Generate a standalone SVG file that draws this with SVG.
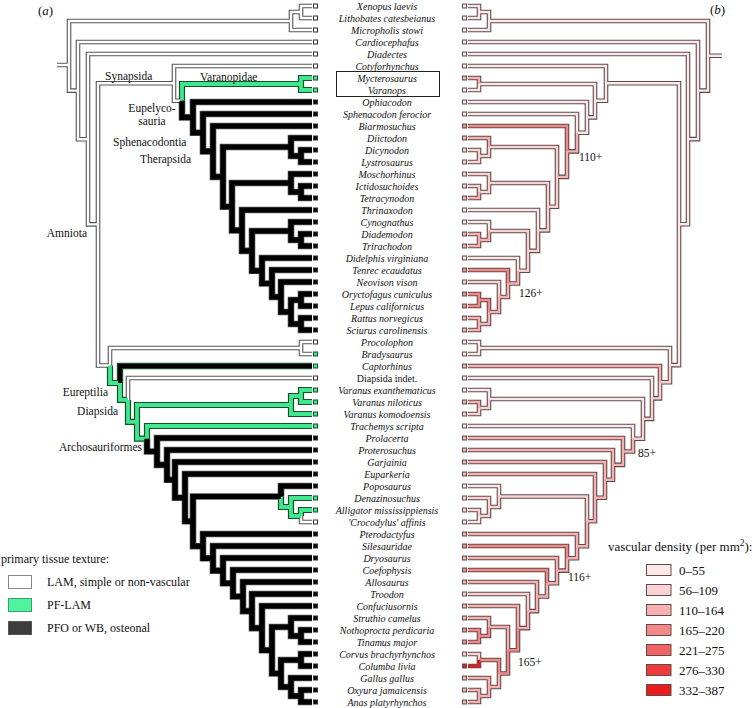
<svg xmlns="http://www.w3.org/2000/svg" xmlns:xlink="http://www.w3.org/1999/xlink" width="756" height="708" viewBox="0 0 756 708">
<style>
.br{fill:none;stroke-linejoin:miter;stroke-linecap:butt}
.wo{stroke:#555;stroke-width:4.6}.wf{stroke:#fff;stroke-width:2.4}
.go{stroke:#1c4a2c;stroke-width:6.2}.gf{stroke:#3de98c;stroke-width:3.8}
.bo{stroke:#555;stroke-width:6.6}.bf{stroke:#000;stroke-width:5.2}
.co{stroke:#1c4a2c;stroke-width:6.4}.cf{stroke:#000;stroke-width:3.8}
.ro{stroke:#5e4c4c;stroke-width:4.6}
.r0{stroke:#fce8e8;stroke-width:2.4}.r1{stroke:#fbd2d2;stroke-width:2.4}.r2{stroke:#f8b0b0;stroke-width:2.4}.r3{stroke:#f48888;stroke-width:2.4}.r6{stroke:#ea1c1c;stroke-width:2.4}
.t{font-family:"Liberation Serif","Times New Roman",serif;font-size:10px;font-style:italic;text-anchor:middle;fill:#111}
.tu{font-style:normal}
.lab{font-family:"Liberation Serif","Times New Roman",serif;font-size:11.5px;fill:#111}
.leg{font-family:"Liberation Serif","Times New Roman",serif;font-size:12px;fill:#111}
.legr{font-family:"Liberation Serif","Times New Roman",serif;font-size:13px;fill:#111}
.sw{fill:#fff;stroke:#333;stroke-width:1}.sg{fill:#3de98c;stroke:#1c4a2c;stroke-width:1}.sb{fill:#000;stroke:#333;stroke-width:1}
.q0{fill:#fce8e8;stroke:#5e4c4c;stroke-width:1}.q1{fill:#fbd2d2;stroke:#5e4c4c;stroke-width:1}.q2{fill:#f8b0b0;stroke:#5e4c4c;stroke-width:1}.q3{fill:#f48888;stroke:#5e4c4c;stroke-width:1}.q6{fill:#ea1c1c;stroke:#5e4c4c;stroke-width:1}
</style>
<defs>
<path id="lw" d="M57,65H69 M69,65V21H291 M291,21V12H301 M301,12V6H312 M301,12V18H312 M291,21V30H312 M69,65V90.6H78 M78,90.6V42H312 M78,90.6V139.2H88 M88,139.2V54H312 M88,139.2V224.4H98 M98,224.4V83.3H174 M174,83.3V66H312 M174,83.3V100.7H182 M98,224.4V365.5H110 M110,365.5V348H301 M301,348V342H312 M301,348V354H312 M128,399.9V378H312 M301,516V522H312"/>
<path id="lg" d="M182,100.7V84H301 M301,84V78H312 M301,84V90H312 M110,365.5V383H120 M120,383V399.9H128 M128,399.9V421.9H137 M137,421.9V405H291 M291,405V396H301 M301,396V390H312 M301,396V402H312 M291,405V414H312 M137,421.9V438.7H147 M147,438.7V426H312 M281,496.5V507H291 M291,507V498H312 M291,507V516H301 M301,516V510H312"/>
<path id="lb" d="M182,100.7V117.4H193 M193,117.4V102H312 M193,117.4V132.7H203 M203,132.7V114H312 M203,132.7V151.4H213 M213,151.4V126H312 M213,151.4V176.9H223 M223,176.9V147H291 M291,147V138H312 M291,147V156H301 M301,156V150H312 M301,156V162H312 M223,176.9V206.7H232 M232,206.7V183H291 M291,183V174H312 M291,183V192H301 M301,192V186H312 M301,192V198H312 M232,206.7V230.4H242 M242,230.4V210H312 M242,230.4V250.9H252 M252,250.9V231H291 M291,231V222H312 M291,231V240H301 M301,240V234H312 M301,240V246H312 M252,250.9V270.8H262 M262,270.8V258H312 M262,270.8V283.5H272 M272,283.5V270H312 M272,283.5V297H281 M281,297V282H312 M281,297V312H291 M291,312V300H301 M301,300V294H312 M301,300V306H312 M291,312V324H301 M301,324V318H312 M301,324V330H312 M147,438.7V451.5H157 M157,451.5V438H312 M157,451.5V464.9H167 M167,464.9V450H312 M167,464.9V479.8H175 M175,479.8V462H312 M175,479.8V497.7H185 M185,497.7V474H312 M185,497.7V521.3H193 M193,521.3V496.5H281 M281,496.5V486H312 M193,521.3V546.2H203 M203,546.2V534H312 M203,546.2V558.3H213 M213,558.3V546H312 M213,558.3V570.6H223 M223,570.6V558H312 M223,570.6V583.3H233 M233,583.3V570H312 M233,583.3V596.5H243 M243,596.5V582H312 M243,596.5V611.1H252 M252,611.1V594H312 M252,611.1V628.1H262 M262,628.1V606H312 M262,628.1V650.3H272 M272,650.3V627H291 M291,627V618H312 M291,627V636H301 M301,636V630H312 M301,636V642H312 M272,650.3V673.5H281 M281,673.5V660H301 M301,660V654H312 M301,660V666H312 M281,673.5V687H291 M291,687V678H312 M291,687V696H301 M301,696V690H312 M301,696V702H312"/>
<path id="lc" d="M120,383V366H312"/>
<path id="p0" d="M722,55.8H708 M708,55.8V21H489 M489,21V12H479 M479,12V6H468 M479,12V18H468 M489,21V30H468 M708,55.8V90.6H698 M698,90.6V42H468 M698,90.6V139.1H688 M688,139.1V54H468 M688,139.1V224.2H679 M679,224.2V83.3H606 M606,83.3V66H468 M606,83.3V100.7H595 M595,100.7V84H479 M479,84V90H468 M595,100.7V117.4H587 M587,117.4V102H468 M587,117.4V132.7H577 M577,132.7V114H468 M538,230.4V210H468 M489,231V222H468 M518,270.8V258H468 M679,224.2V365.1H670 M670,365.1V348H479 M479,348V342H468 M479,348V354H468 M652,398.4V378H468 M643,418.9V399H489 M489,399V390H468 M633,438.7V426H468 M499,496.5V486H468 M479,516V522H468"/>
<path id="p1" d="M557,176.9V147H489 M489,147V156H479 M479,156V150H468 M479,156V162H468 M557,176.9V206.7H548 M548,206.7V183H489 M489,183V174H468 M489,183V192H479 M479,192V186H468 M548,206.7V230.4H538 M538,230.4V250.9H528 M528,250.9V231H489 M528,250.9V270.8H518 M499,297V282H468 M670,365.1V382.2H660 M660,382.2V398.4H652 M652,398.4V418.9H643 M489,399V408H479 M479,408V414H468 M643,418.9V438.7H633 M587,521.3V496.5H499 M499,496.5V507H489 M489,507V498H468 M489,507V516H479 M479,516V510H468 M528,611.1V594H468 M479,660V654H468"/>
<path id="p2" d="M479,84V78H468 M577,132.7V151.4H567 M567,151.4V176.9H557 M489,147V138H468 M479,192V198H468 M489,231V240H479 M479,240V234H468 M479,240V246H468 M518,270.8V283.5H508 M508,283.5V297H499 M499,297V312H489 M489,312V324H479 M479,324V318H468 M479,324V330H468 M660,382.2V366H468 M479,408V402H468 M633,438.7V451.5H623 M623,451.5V438H468 M623,451.5V464.9H613 M613,464.9V450H468 M613,464.9V479.8H605 M605,479.8V462H468 M605,479.8V497.7H595 M595,497.7V474H468 M595,497.7V521.3H587 M587,521.3V546.2H577 M577,546.2V534H468 M577,546.2V558.3H567 M567,558.3V570.6H557 M557,570.6V558H468 M557,570.6V583.3H547 M547,583.3V596.5H537 M537,596.5V582H468 M537,596.5V611.1H528 M528,611.1V628.1H518 M518,628.1V606H468 M508,650.3V627H489 M489,627V618H468 M499,673.5V687H489 M489,687V678H468 M489,687V696H479 M479,696V690H468 M479,696V702H468"/>
<path id="p3" d="M567,151.4V126H468 M508,283.5V270H468 M489,312V300H479 M479,300V294H468 M479,300V306H468 M567,558.3V546H468 M547,583.3V570H468 M518,628.1V650.3H508 M489,627V636H479 M479,636V630H468 M479,636V642H468 M508,650.3V673.5H499 M499,673.5V660H479"/>
<path id="p6" d="M479,660V666H468"/>
</defs>
<rect width="756" height="708" fill="#fff"/>
<g id="connectors">
<g id="tree-a">
<use xlink:href="#lw" class="br wo"/><use xlink:href="#lg" class="br go"/><use xlink:href="#lb" class="br bo"/><use xlink:href="#lc" class="br co"/>
<use xlink:href="#lw" class="br wf"/><use xlink:href="#lg" class="br gf"/><use xlink:href="#lb" class="br bf"/><use xlink:href="#lc" class="br cf"/>
</g>
<g id="tree-b">
<use xlink:href="#p0" class="br ro"/><use xlink:href="#p1" class="br ro"/><use xlink:href="#p2" class="br ro"/><use xlink:href="#p3" class="br ro"/><use xlink:href="#p6" class="br ro"/>
<use xlink:href="#p0" class="br r0"/><use xlink:href="#p1" class="br r1"/><use xlink:href="#p2" class="br r2"/><use xlink:href="#p3" class="br r3"/><use xlink:href="#p6" class="br r6"/>
</g>
</g>
<g id="taxa">
<g id="n01"><rect class="sw" x="313.5" y="4" width="4" height="4"/><rect class="q0" x="462.5" y="4" width="4" height="4"/><text class="t" x="387" y="9.5">Xenopus laevis</text></g>
<g id="n02"><rect class="sw" x="313.5" y="16" width="4" height="4"/><rect class="q0" x="462.5" y="16" width="4" height="4"/><text class="t" x="387" y="21.5">Lithobates catesbeianus</text></g>
<g id="n03"><rect class="sw" x="313.5" y="28" width="4" height="4"/><rect class="q0" x="462.5" y="28" width="4" height="4"/><text class="t" x="387" y="33.5">Micropholis stowi</text></g>
<g id="n04"><rect class="sw" x="313.5" y="40" width="4" height="4"/><rect class="q0" x="462.5" y="40" width="4" height="4"/><text class="t" x="387" y="45.5">Cardiocephafus</text></g>
<g id="n05"><rect class="sw" x="313.5" y="52" width="4" height="4"/><rect class="q0" x="462.5" y="52" width="4" height="4"/><text class="t" x="387" y="57.5">Diadectes</text></g>
<g id="n06"><rect class="sw" x="313.5" y="64" width="4" height="4"/><rect class="q0" x="462.5" y="64" width="4" height="4"/><text class="t" x="387" y="69.5">Cotyforhynchus</text></g>
<g id="n07"><rect class="sg" x="313.5" y="76" width="4" height="4"/><rect class="q2" x="462.5" y="76" width="4" height="4"/><text class="t" x="387" y="81.5">Mycterosaurus</text></g>
<g id="n08"><rect class="sg" x="313.5" y="88" width="4" height="4"/><rect class="q0" x="462.5" y="88" width="4" height="4"/><text class="t" x="387" y="93.5">Varanops</text></g>
<g id="n09"><rect class="sb" x="313.5" y="100" width="4" height="4"/><rect class="q0" x="462.5" y="100" width="4" height="4"/><text class="t" x="387" y="105.5">Ophiacodon</text></g>
<g id="n10"><rect class="sb" x="313.5" y="112" width="4" height="4"/><rect class="q0" x="462.5" y="112" width="4" height="4"/><text class="t" x="387" y="117.5">Sphenacodon ferocior</text></g>
<g id="n11"><rect class="sb" x="313.5" y="124" width="4" height="4"/><rect class="q3" x="462.5" y="124" width="4" height="4"/><text class="t" x="387" y="129.5">Biarmosuchus</text></g>
<g id="n12"><rect class="sb" x="313.5" y="136" width="4" height="4"/><rect class="q2" x="462.5" y="136" width="4" height="4"/><text class="t" x="387" y="141.5">Diictodon</text></g>
<g id="n13"><rect class="sb" x="313.5" y="148" width="4" height="4"/><rect class="q1" x="462.5" y="148" width="4" height="4"/><text class="t" x="387" y="153.5">Dicynodon</text></g>
<g id="n14"><rect class="sb" x="313.5" y="160" width="4" height="4"/><rect class="q1" x="462.5" y="160" width="4" height="4"/><text class="t" x="387" y="165.5">Lystrosaurus</text></g>
<g id="n15"><rect class="sb" x="313.5" y="172" width="4" height="4"/><rect class="q1" x="462.5" y="172" width="4" height="4"/><text class="t" x="387" y="177.5">Moschorhinus</text></g>
<g id="n16"><rect class="sb" x="313.5" y="184" width="4" height="4"/><rect class="q1" x="462.5" y="184" width="4" height="4"/><text class="t" x="387" y="189.5">Ictidosuchoides</text></g>
<g id="n17"><rect class="sb" x="313.5" y="196" width="4" height="4"/><rect class="q2" x="462.5" y="196" width="4" height="4"/><text class="t" x="387" y="201.5">Tetracynodon</text></g>
<g id="n18"><rect class="sb" x="313.5" y="208" width="4" height="4"/><rect class="q0" x="462.5" y="208" width="4" height="4"/><text class="t" x="387" y="213.5">Thrinaxodon</text></g>
<g id="n19"><rect class="sb" x="313.5" y="220" width="4" height="4"/><rect class="q0" x="462.5" y="220" width="4" height="4"/><text class="t" x="387" y="225.5">Cynognathus</text></g>
<g id="n20"><rect class="sb" x="313.5" y="232" width="4" height="4"/><rect class="q2" x="462.5" y="232" width="4" height="4"/><text class="t" x="387" y="237.5">Diademodon</text></g>
<g id="n21"><rect class="sb" x="313.5" y="244" width="4" height="4"/><rect class="q2" x="462.5" y="244" width="4" height="4"/><text class="t" x="387" y="249.5">Trirachodon</text></g>
<g id="n22"><rect class="sb" x="313.5" y="256" width="4" height="4"/><rect class="q0" x="462.5" y="256" width="4" height="4"/><text class="t" x="387" y="261.5">Didelphis virginiana</text></g>
<g id="n23"><rect class="sb" x="313.5" y="268" width="4" height="4"/><rect class="q3" x="462.5" y="268" width="4" height="4"/><text class="t" x="387" y="273.5">Tenrec ecaudatus</text></g>
<g id="n24"><rect class="sb" x="313.5" y="280" width="4" height="4"/><rect class="q1" x="462.5" y="280" width="4" height="4"/><text class="t" x="387" y="285.5">Neovison vison</text></g>
<g id="n25"><rect class="sb" x="313.5" y="292" width="4" height="4"/><rect class="q3" x="462.5" y="292" width="4" height="4"/><text class="t" x="387" y="297.5">Oryctofagus cuniculus</text></g>
<g id="n26"><rect class="sb" x="313.5" y="304" width="4" height="4"/><rect class="q3" x="462.5" y="304" width="4" height="4"/><text class="t" x="387" y="309.5">Lepus californicus</text></g>
<g id="n27"><rect class="sb" x="313.5" y="316" width="4" height="4"/><rect class="q2" x="462.5" y="316" width="4" height="4"/><text class="t" x="387" y="321.5">Rattus norvegicus</text></g>
<g id="n28"><rect class="sb" x="313.5" y="328" width="4" height="4"/><rect class="q2" x="462.5" y="328" width="4" height="4"/><text class="t" x="387" y="333.5">Sciurus carolinensis</text></g>
<g id="n29"><rect class="sw" x="313.5" y="340" width="4" height="4"/><rect class="q0" x="462.5" y="340" width="4" height="4"/><text class="t" x="387" y="345.5">Procolophon</text></g>
<g id="n30"><rect class="sg" x="313.5" y="352" width="4" height="4"/><rect class="q0" x="462.5" y="352" width="4" height="4"/><text class="t" x="387" y="357.5">Bradysaurus</text></g>
<g id="n31"><rect class="sg" x="313.5" y="364" width="4" height="4"/><rect class="q2" x="462.5" y="364" width="4" height="4"/><text class="t" x="387" y="369.5">Captorhinus</text></g>
<g id="n32"><rect class="sw" x="313.5" y="376" width="4" height="4"/><rect class="q0" x="462.5" y="376" width="4" height="4"/><text class="t tu" x="387" y="381.5">Diapsida indet.</text></g>
<g id="n33"><rect class="sg" x="313.5" y="388" width="4" height="4"/><rect class="q0" x="462.5" y="388" width="4" height="4"/><text class="t" x="387" y="393.5">Varanus exanthematicus</text></g>
<g id="n34"><rect class="sg" x="313.5" y="400" width="4" height="4"/><rect class="q2" x="462.5" y="400" width="4" height="4"/><text class="t" x="387" y="405.5">Varanus niloticus</text></g>
<g id="n35"><rect class="sg" x="313.5" y="412" width="4" height="4"/><rect class="q1" x="462.5" y="412" width="4" height="4"/><text class="t" x="387" y="417.5">Varanus komodoensis</text></g>
<g id="n36"><rect class="sg" x="313.5" y="424" width="4" height="4"/><rect class="q0" x="462.5" y="424" width="4" height="4"/><text class="t" x="387" y="429.5">Trachemys scripta</text></g>
<g id="n37"><rect class="sb" x="313.5" y="436" width="4" height="4"/><rect class="q2" x="462.5" y="436" width="4" height="4"/><text class="t" x="387" y="441.5">Prolacerta</text></g>
<g id="n38"><rect class="sb" x="313.5" y="448" width="4" height="4"/><rect class="q2" x="462.5" y="448" width="4" height="4"/><text class="t" x="387" y="453.5">Proterosuchus</text></g>
<g id="n39"><rect class="sb" x="313.5" y="460" width="4" height="4"/><rect class="q2" x="462.5" y="460" width="4" height="4"/><text class="t" x="387" y="465.5">Garjainia</text></g>
<g id="n40"><rect class="sb" x="313.5" y="472" width="4" height="4"/><rect class="q2" x="462.5" y="472" width="4" height="4"/><text class="t" x="387" y="477.5">Euparkeria</text></g>
<g id="n41"><rect class="sb" x="313.5" y="484" width="4" height="4"/><rect class="q0" x="462.5" y="484" width="4" height="4"/><text class="t" x="387" y="489.5">Poposaurus</text></g>
<g id="n42"><rect class="sg" x="313.5" y="496" width="4" height="4"/><rect class="q1" x="462.5" y="496" width="4" height="4"/><text class="t" x="387" y="501.5">Denazinosuchus</text></g>
<g id="n43"><rect class="sg" x="313.5" y="508" width="4" height="4"/><rect class="q1" x="462.5" y="508" width="4" height="4"/><text class="t" x="387" y="513.5">Alligator mississippiensis</text></g>
<g id="n44"><rect class="sw" x="313.5" y="520" width="4" height="4"/><rect class="q0" x="462.5" y="520" width="4" height="4"/><text class="t" x="387" y="525.5">'Crocodylus' affinis</text></g>
<g id="n45"><rect class="sb" x="313.5" y="532" width="4" height="4"/><rect class="q2" x="462.5" y="532" width="4" height="4"/><text class="t" x="387" y="537.5">Pterodactyfus</text></g>
<g id="n46"><rect class="sb" x="313.5" y="544" width="4" height="4"/><rect class="q3" x="462.5" y="544" width="4" height="4"/><text class="t" x="387" y="549.5">Silesauridae</text></g>
<g id="n47"><rect class="sb" x="313.5" y="556" width="4" height="4"/><rect class="q2" x="462.5" y="556" width="4" height="4"/><text class="t" x="387" y="561.5">Dryosaurus</text></g>
<g id="n48"><rect class="sb" x="313.5" y="568" width="4" height="4"/><rect class="q3" x="462.5" y="568" width="4" height="4"/><text class="t" x="387" y="573.5">Coefophysis</text></g>
<g id="n49"><rect class="sb" x="313.5" y="580" width="4" height="4"/><rect class="q2" x="462.5" y="580" width="4" height="4"/><text class="t" x="387" y="585.5">Allosaurus</text></g>
<g id="n50"><rect class="sb" x="313.5" y="592" width="4" height="4"/><rect class="q1" x="462.5" y="592" width="4" height="4"/><text class="t" x="387" y="597.5">Troodon</text></g>
<g id="n51"><rect class="sb" x="313.5" y="604" width="4" height="4"/><rect class="q2" x="462.5" y="604" width="4" height="4"/><text class="t" x="387" y="609.5">Confuciusornis</text></g>
<g id="n52"><rect class="sb" x="313.5" y="616" width="4" height="4"/><rect class="q2" x="462.5" y="616" width="4" height="4"/><text class="t" x="387" y="621.5">Struthio camelus</text></g>
<g id="n53"><rect class="sb" x="313.5" y="628" width="4" height="4"/><rect class="q3" x="462.5" y="628" width="4" height="4"/><text class="t" x="387" y="633.5">Nothoprocta perdicaria</text></g>
<g id="n54"><rect class="sb" x="313.5" y="640" width="4" height="4"/><rect class="q3" x="462.5" y="640" width="4" height="4"/><text class="t" x="387" y="645.5">Tinamus major</text></g>
<g id="n55"><rect class="sb" x="313.5" y="652" width="4" height="4"/><rect class="q1" x="462.5" y="652" width="4" height="4"/><text class="t" x="387" y="657.5">Corvus brachyrhynchos</text></g>
<g id="n56"><rect class="sb" x="313.5" y="664" width="4" height="4"/><rect class="q6" x="462.5" y="664" width="4" height="4"/><text class="t" x="387" y="669.5">Columba livia</text></g>
<g id="n57"><rect class="sb" x="313.5" y="676" width="4" height="4"/><rect class="q2" x="462.5" y="676" width="4" height="4"/><text class="t" x="387" y="681.5">Gallus gallus</text></g>
<g id="n58"><rect class="sb" x="313.5" y="688" width="4" height="4"/><rect class="q2" x="462.5" y="688" width="4" height="4"/><text class="t" x="387" y="693.5">Oxyura jamaicensis</text></g>
<g id="n59"><rect class="sb" x="313.5" y="700" width="4" height="4"/><rect class="q2" x="462.5" y="700" width="4" height="4"/><text class="t" x="387" y="705.5">Anas platyrhynchos</text></g>
</g>
<rect id="varanopid-box" x="336.5" y="71.5" width="103" height="25" fill="none" stroke="#222" stroke-width="1"/>
<g id="clade-labels">
<text class="lab" x="105" y="80">Synapsida</text>
<text class="lab" x="200" y="81">Varanopidae</text>
<text class="lab" x="152" y="112" text-anchor="middle">Eupelyco-</text>
<text class="lab" x="152" y="125" text-anchor="middle">sauria</text>
<text class="lab" x="113" y="146">Sphenacodontia</text>
<text class="lab" x="140" y="163">Therapsida</text>
<text class="lab" x="87" y="237" text-anchor="end">Amniota</text>
<text class="lab" x="108" y="396" text-anchor="end">Eureptilia</text>
<text class="lab" x="118" y="415" text-anchor="end">Diapsida</text>
<text class="lab" x="142" y="451" text-anchor="end">Archosauriformes</text>
<text class="lab" x="579" y="161">110+</text>
<text class="lab" x="519" y="297">126+</text>
<text class="lab" x="638" y="457">85+</text>
<text class="lab" x="568" y="581">116+</text>
<text class="lab" x="518" y="666">165+</text>
</g>
<g id="panel-labels">
<text class="legr" x="38" y="15">(<tspan font-style="italic">a</tspan>)</text>
<text class="legr" x="710" y="14">(<tspan font-style="italic">b</tspan>)</text>
</g>
<g id="legend-a">
<text class="leg" x="1" y="563" font-size="12.4">primary tissue texture:</text>
<g id="leg-lam"><rect x="8.5" y="575.5" width="23" height="13" fill="#fff" stroke="#888"/><text class="leg" x="47" y="586">LAM, simple or non-vascular</text></g>
<g id="leg-pflam"><rect x="8.5" y="598.5" width="23" height="13" fill="#4ef59e" stroke="#3aa070"/><text class="leg" x="47" y="609">PF-LAM</text></g>
<g id="leg-pfo"><rect x="8.5" y="621.5" width="23" height="13" fill="#3d3d3d" stroke="#555"/><text class="leg" x="47" y="632">PFO or WB, osteonal</text></g>
</g>
<g id="legend-b">
<text class="legr" x="608" y="551" font-size="13.5">vascular density (per mm<tspan dy="-5" font-size="9.5">2</tspan><tspan dy="5">):</tspan></text>
<g id="vd0"><rect x="646.5" y="564.5" width="24.5" height="11" fill="#fce8e8" stroke="#5e4c4c"/><text class="legr" x="679" y="574.5">0–55</text></g>
<g id="vd1"><rect x="646.5" y="584.5" width="24.5" height="11" fill="#fbd2d2" stroke="#5e4c4c"/><text class="legr" x="679" y="594.5">56–109</text></g>
<g id="vd2"><rect x="646.5" y="604.5" width="24.5" height="11" fill="#f8b0b0" stroke="#5e4c4c"/><text class="legr" x="679" y="614.5">110–164</text></g>
<g id="vd3"><rect x="646.5" y="624.5" width="24.5" height="11" fill="#f48888" stroke="#5e4c4c"/><text class="legr" x="679" y="634.5">165–220</text></g>
<g id="vd4"><rect x="646.5" y="644.5" width="24.5" height="11" fill="#f26262" stroke="#5e4c4c"/><text class="legr" x="679" y="654.5">221–275</text></g>
<g id="vd5"><rect x="646.5" y="664.5" width="24.5" height="11" fill="#ee3c3c" stroke="#5e4c4c"/><text class="legr" x="679" y="674.5">276–330</text></g>
<g id="vd6"><rect x="646.5" y="684.5" width="24.5" height="11" fill="#ea1c1c" stroke="#5e4c4c"/><text class="legr" x="679" y="694.5">332–387</text></g>
</g>
</svg>
